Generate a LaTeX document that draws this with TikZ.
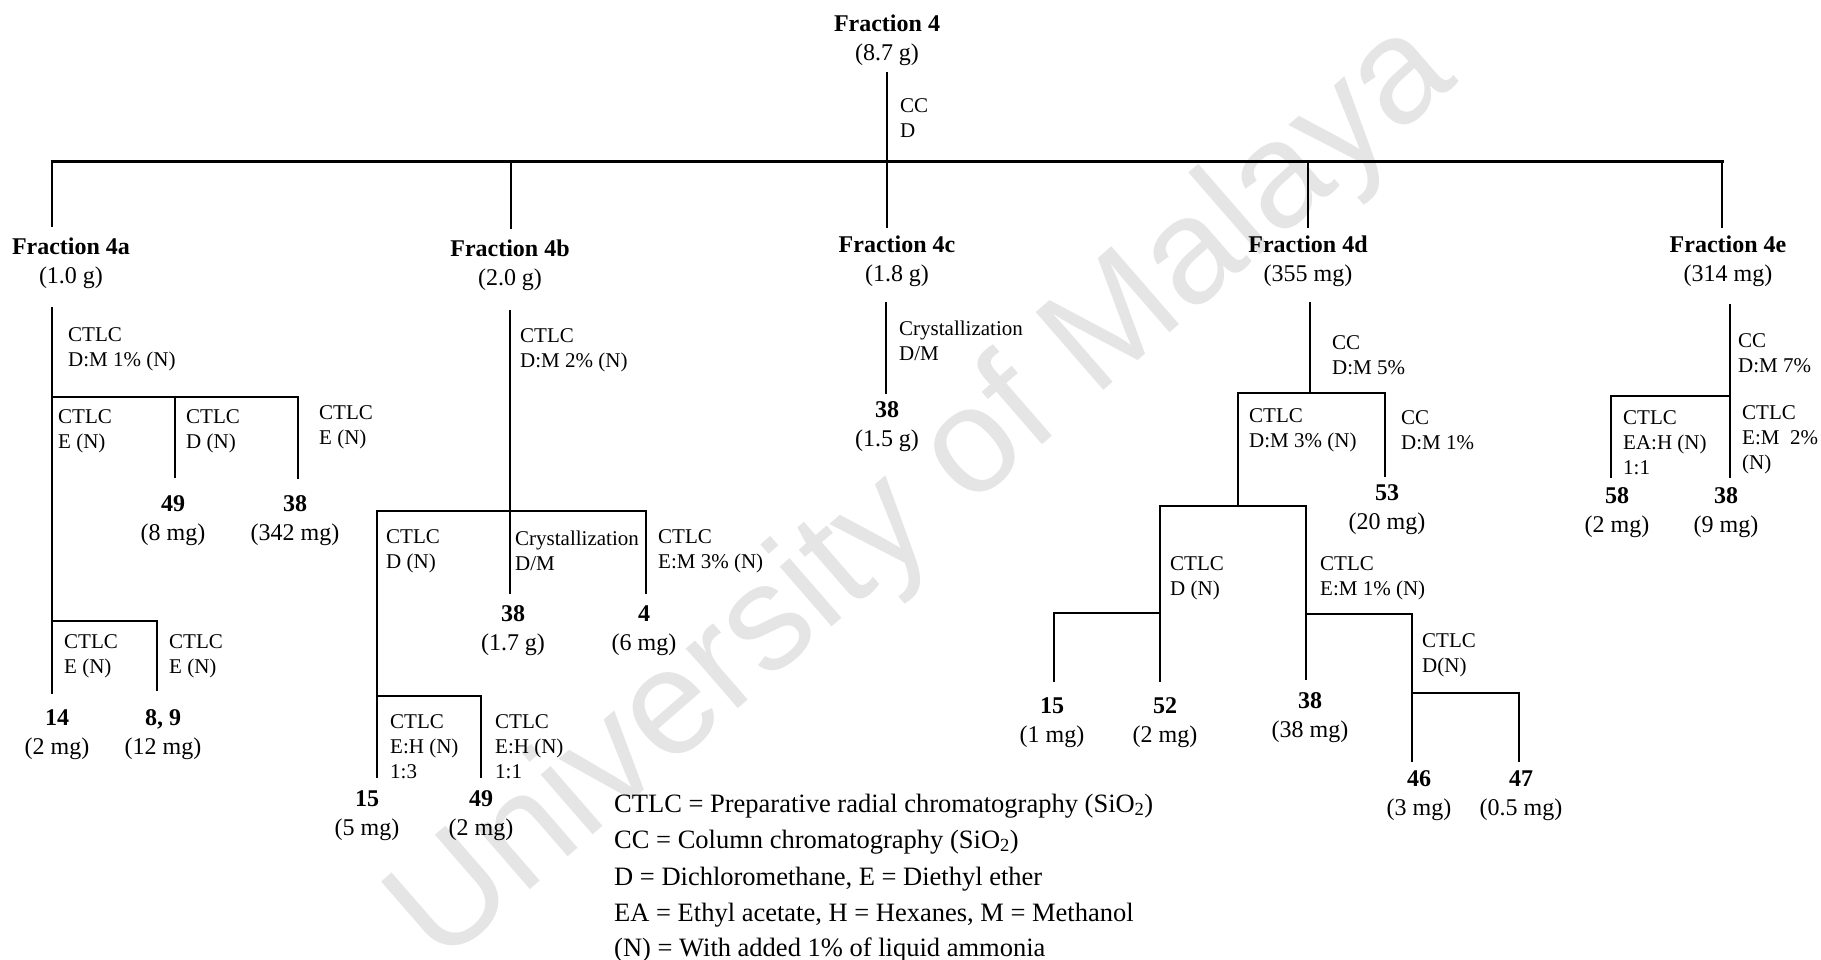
\documentclass[tikz,border=0pt]{standalone}
\usepackage{fontspec}
\setmainfont{Liberation Serif}
\newfontfamily\wmfont{Liberation Sans}
\begin{document}
\begin{tikzpicture}[x=1pt,y=-1pt,
  branch/.style={line width=2.4pt, line cap=rect, line join=miter},
  mainbar/.style={line width=3pt, line cap=rect},
  frac/.style={font=\fontsize{24}{29}\selectfont, align=center, inner sep=0pt, anchor=center},
  lbl/.style={font=\fontsize{21}{25}\selectfont, align=left, inner sep=0pt, anchor=west},
  legend/.style={font=\fontsize{26.5}{36}\selectfont, inner sep=0pt, anchor=base west},
  watermark/.style={font=\wmfont\fontsize{150}{150}\selectfont, text=black!10, rotate=41, inner sep=0pt}]
\useasboundingbox (0,0) rectangle (1821,960);

% faint background stamp
\node[watermark] (stamp) at (925,495) {University of Malaya};

% ---------- top level ----------
\node[frac] (f4) at (887,40) {\textbf{Fraction 4}\\(8.7 g)};
\node[lbl] (m4) at (900,118) {CC\\D};
\coordinate (top) at (887,73);
\coordinate (barL) at (52,162);
\coordinate (barR) at (1722,162);
\coordinate (hubB) at (511,162);
\coordinate (hubD) at (1308,162);
\coordinate (dA) at (52,226);
\coordinate (dB) at (511,228);
\coordinate (dC) at (887,227);
\coordinate (dD) at (1308,227);
\coordinate (dE) at (1722,227);
\draw[mainbar] (barL) -- (barR);
\draw[branch] (top) -- (dC);
\draw[branch] (barL) -- (dA);
\draw[branch] (hubB) -- (dB);
\draw[branch] (hubD) -- (dD);
\draw[branch] (barR) -- (dE);

\node[frac] (f4a) at (71,263.5) {\textbf{Fraction 4a}\\(1.0 g)};
\node[frac] (f4b) at (510,265) {\textbf{Fraction 4b}\\(2.0 g)};
\node[frac] (f4c) at (897,261.5) {\textbf{Fraction 4c}\\(1.8 g)};
\node[frac] (f4d) at (1308,261.5) {\textbf{Fraction 4d}\\(355 mg)};
\node[frac] (f4e) at (1728,261.5) {\textbf{Fraction 4e}\\(314 mg)};

% ---------- Fraction 4a ----------
\coordinate (a0) at (52,308);
\coordinate (a1) at (52,397);
\coordinate (a2) at (52,621);
\coordinate (a3) at (52,693);
\coordinate (a4) at (175,397);
\coordinate (a5) at (175,477);
\coordinate (a6) at (298,397);
\coordinate (a7) at (298,478);
\coordinate (a8) at (157,621);
\coordinate (a9) at (157,690);
\draw[branch] (a0) -- (a3);
\draw[branch] (a1) -- (a6) -- (a7);
\draw[branch] (a4) -- (a5);
\draw[branch] (a2) -- (a8) -- (a9);
\node[lbl] (ma1) at (68,349.5) {CTLC\\D:M 1\% (N)};
\node[lbl] (ma2) at (58,431.5) {CTLC\\E (N)};
\node[lbl] (ma3) at (186,431.5) {CTLC\\D (N)};
\node[lbl] (ma4) at (319,427.5) {CTLC\\E (N)};
\node[lbl] (ma5) at (64,656.5) {CTLC\\E (N)};
\node[lbl] (ma6) at (169,656.5) {CTLC\\E (N)};
\node[frac] (ca49) at (173,521) {\textbf{49}\\(8 mg)};
\node[frac] (ca38) at (295,521) {\textbf{38}\\(342 mg)};
\node[frac] (ca14) at (57,734.5) {\textbf{14}\\(2 mg)};
\node[frac] (ca89) at (163,734.5) {\textbf{8, 9}\\(12 mg)};

% ---------- Fraction 4b ----------
\coordinate (b0) at (510,311);
\coordinate (b1) at (510,511);
\coordinate (b2) at (510,593);
\coordinate (b3) at (377,511);
\coordinate (b4) at (377,777);
\coordinate (b5) at (646,511);
\coordinate (b6) at (646,593);
\coordinate (b7) at (377,696);
\coordinate (b8) at (481,696);
\coordinate (b9) at (481,777);
\draw[branch] (b0) -- (b2);
\draw[branch] (b4) -- (b3) -- (b5) -- (b6);
\draw[branch] (b7) -- (b8) -- (b9);
\node[lbl] (mb1) at (520,350) {CTLC\\D:M 2\% (N)};
\node[lbl] (mb2) at (386,551) {CTLC\\D (N)};
\node[lbl] (mb3) at (515,551) {Crystallization\\D/M};
\node[lbl] (mb4) at (658,551) {CTLC\\E:M 3\% (N)};
\node[lbl] (mb5) at (390,747) {CTLC\\E:H (N)\\1:3};
\node[lbl] (mb6) at (495,747) {CTLC\\E:H (N)\\1:1};
\node[frac] (cb38) at (513,630.5) {\textbf{38}\\(1.7 g)};
\node[frac] (cb4) at (644,630.5) {\textbf{4}\\(6 mg)};
\node[frac] (cb15) at (367,816) {\textbf{15}\\(5 mg)};
\node[frac] (cb49) at (481,816) {\textbf{49}\\(2 mg)};

% ---------- Fraction 4c ----------
\coordinate (c0) at (886,303);
\coordinate (c1) at (886,393);
\draw[branch] (c0) -- (c1);
\node[lbl] (mc1) at (899,340.5) {Crystallization\\D/M};
\node[frac] (cc38) at (887,427) {\textbf{38}\\(1.5 g)};

% ---------- Fraction 4d ----------
\coordinate (d0) at (1310,303);
\coordinate (d1) at (1310,393);
\coordinate (d2) at (1238,393);
\coordinate (d3) at (1385,393);
\coordinate (d4) at (1385,476);
\coordinate (d5) at (1238,506);
\coordinate (d6) at (1160,506);
\coordinate (d7) at (1306,506);
\coordinate (d8) at (1160,681);
\coordinate (d9) at (1306,679);
\coordinate (d10) at (1160,613);
\coordinate (d11) at (1054,613);
\coordinate (d12) at (1054,681);
\coordinate (d13) at (1306,614);
\coordinate (d14) at (1412,614);
\coordinate (d15) at (1412,761);
\coordinate (d16) at (1412,693);
\coordinate (d17) at (1519,693);
\coordinate (d18) at (1519,761);
\draw[branch] (d0) -- (d1);
\draw[branch] (d5) -- (d2) -- (d3) -- (d4);
\draw[branch] (d8) -- (d6) -- (d7) -- (d9);
\draw[branch] (d10) -- (d11) -- (d12);
\draw[branch] (d13) -- (d14) -- (d15);
\draw[branch] (d16) -- (d17) -- (d18);
\node[lbl] (md1) at (1332,355) {CC\\D:M 5\%};
\node[lbl] (md2) at (1249,430) {CTLC\\D:M 3\% (N)};
\node[lbl] (md3) at (1401,430) {CC\\D:M 1\%};
\node[lbl] (md4) at (1170,578.5) {CTLC\\D (N)};
\node[lbl] (md5) at (1320,578.5) {CTLC\\E:M 1\% (N)};
\node[lbl] (md6) at (1422,655) {CTLC\\D(N)};
\node[frac] (cd53) at (1387,510) {\textbf{53}\\(20 mg)};
\node[frac] (cd15) at (1052,723) {\textbf{15}\\(1 mg)};
\node[frac] (cd52) at (1165,723) {\textbf{52}\\(2 mg)};
\node[frac] (cd38) at (1310,718) {\textbf{38}\\(38 mg)};
\node[frac] (cd46) at (1419,795.5) {\textbf{46}\\(3 mg)};
\node[frac] (cd47) at (1521,795.5) {\textbf{47}\\(0.5 mg)};

% ---------- Fraction 4e ----------
\coordinate (e0) at (1730,305);
\coordinate (e1) at (1730,396);
\coordinate (e2) at (1730,477);
\coordinate (e3) at (1611,396);
\coordinate (e4) at (1611,477);
\draw[branch] (e0) -- (e2);
\draw[branch] (e1) -- (e3) -- (e4);
\node[lbl] (me1) at (1738,353) {CC\\D:M 7\%};
\node[lbl] (me2) at (1623,443) {CTLC\\EA:H (N)\\1:1};
\node[lbl] (me3) at (1742,440) {CTLC\\E:M\ \ 2\%\\(N)};
\node[frac] (ce58) at (1617,512.5) {\textbf{58}\\(2 mg)};
\node[frac] (ce38) at (1726,512.5) {\textbf{38}\\(9 mg)};

% ---------- abbreviations ----------
\node[legend] (k1) at (614,812) {CTLC = Preparative radial chromatography (SiO\textsubscript{2})};
\node[legend] (k2) at (614,848) {CC = Column chromatography (SiO\textsubscript{2})};
\node[legend] (k3) at (614,885) {D = Dichloromethane, E = Diethyl ether};
\node[legend] (k4) at (614,921) {EA = Ethyl acetate, H = Hexanes, M = Methanol};
\node[legend] (k5) at (614,956) {(N) = With added 1\% of liquid ammonia};
\end{tikzpicture}
\end{document}
